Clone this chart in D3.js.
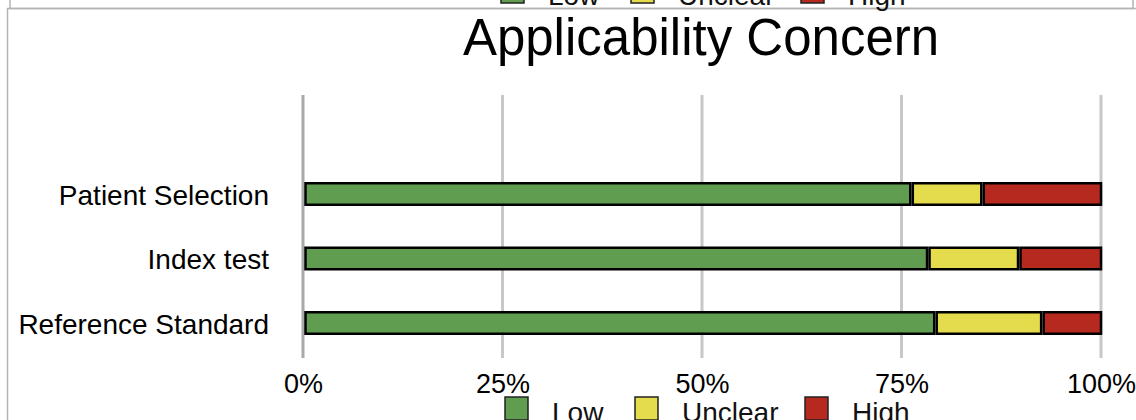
<!DOCTYPE html>
<html>
<head>
<meta charset="utf-8">
<script src="https://cdn.jsdelivr.net/npm/d3@7"></script>
<style>
  html, body { margin: 0; padding: 0; background: #fff; }
  svg { display: block; font-family: "Liberation Sans", Arial, Helvetica, sans-serif; }
</style>
</head>
<body>
<svg width="1136" height="420"></svg>
<script>
// data (percent of studies)
const categories = ["Patient Selection", "Index test", "Reference Standard"];
const levels = ["Low", "Unclear", "High"];
const lowValues = [76.1, 78.2, 79.1];
const unclearValues = [8.9, 11.4, 13.4];
const highValues = [15.0, 10.4, 7.5];
const tickValues = [0, 25, 50, 75, 100];
const title = "Applicability Concern";

const colors = { Low: "#619d51", Unclear: "#e4dc4c", High: "#b6291f" };

const svg = d3.select("svg");

const rows = categories.map((c, i) => ({
    category: c,
    Low: lowValues[i],
    Unclear: unclearValues[i],
    High: highValues[i]
}));

const x = d3.scaleLinear().domain([0, 100]).range([303, 1101]);
const y = d3.scaleBand()
    .domain(categories)
    .range([161.75, 355.25])
    .paddingInner(0.628)
    .paddingOuter(0.314);

// frame lines (bottom of the previous panel and left side of this one)
const frame = svg.append("g").attr("stroke", "#b4b4b4").attr("stroke-width", 1.5).attr("fill", "none");
frame.append("path").attr("d", "M10,0V8.5H1133V0");
frame.append("path").attr("d", "M7.5,8.5V420");
frame.append("path").attr("d", "M7,8.5H1136");

// legend that belongs to the panel above, cut off by the top edge
function legend(g) {
    const xs = [505, 635, 805];
    const items = g.selectAll("g").data(levels).enter().append("g")
        .attr("transform", (d, i) => `translate(${xs[i]},0)`);
    items.append("rect")
        .attr("width", 23).attr("height", 23)
        .attr("fill", d => colors[d])
        .attr("stroke", "#222").attr("stroke-width", 1.5);
    items.append("text")
        .attr("x", 47).attr("y", 25)
        .attr("font-size", 28)
        .attr("fill", "#111")
        .text(d => d);
}
svg.append("g").attr("transform", "translate(-4,-20)").call(legend);

// title
svg.append("text")
    .attr("x", 701).attr("y", 55)
    .attr("text-anchor", "middle")
    .attr("font-size", 51)
    .attr("fill", "#000")
    .text(title);

// vertical grid lines
svg.append("g")
    .selectAll("line")
    .data(tickValues)
    .enter().append("line")
    .attr("x1", d => x(d)).attr("x2", d => x(d))
    .attr("y1", 95).attr("y2", 358)
    .attr("stroke", d => d === 0 ? "#a9a9a9" : "#c8c8c8")
    .attr("stroke-width", 3);

// x axis labels
const xAxis = d3.axisBottom(x)
    .tickValues(tickValues)
    .tickFormat(d => d + "%")
    .tickSize(0)
    .tickPadding(0);
const axisG = svg.append("g").attr("transform", "translate(0,372)").call(xAxis);
axisG.select(".domain").remove();
axisG.selectAll("text")
    .attr("font-size", 27)
    .attr("fill", "#000")
    .attr("font-family", "inherit")
    .attr("dy", "0.78em");

// category labels
svg.append("g")
    .selectAll("text")
    .data(categories)
    .enter().append("text")
    .attr("x", 269)
    .attr("y", d => y(d) + y.bandwidth() / 2)
    .attr("dy", "0.38em")
    .attr("text-anchor", "end")
    .attr("font-size", 28)
    .attr("fill", "#000")
    .text(d => d);

// stacked bars
const stacked = d3.stack().keys(levels)(rows);
svg.append("g")
    .selectAll("g")
    .data(stacked)
    .enter().append("g")
    .attr("fill", s => colors[s.key])
    .selectAll("rect")
    .data(s => s)
    .enter().append("rect")
    .attr("x", d => x(d[0]) + 2.5)
    .attr("y", d => y(d.data.category) + 1.25)
    .attr("width", d => Math.max(0, x(d[1]) - x(d[0]) - 2.5))
    .attr("height", y.bandwidth() - 2.5)
    .attr("stroke", "#000")
    .attr("stroke-width", 2.5);

// legend of this panel, cut off by the bottom edge
svg.append("g").attr("transform", "translate(0,397)").call(legend);
</script>
</body>
</html>
